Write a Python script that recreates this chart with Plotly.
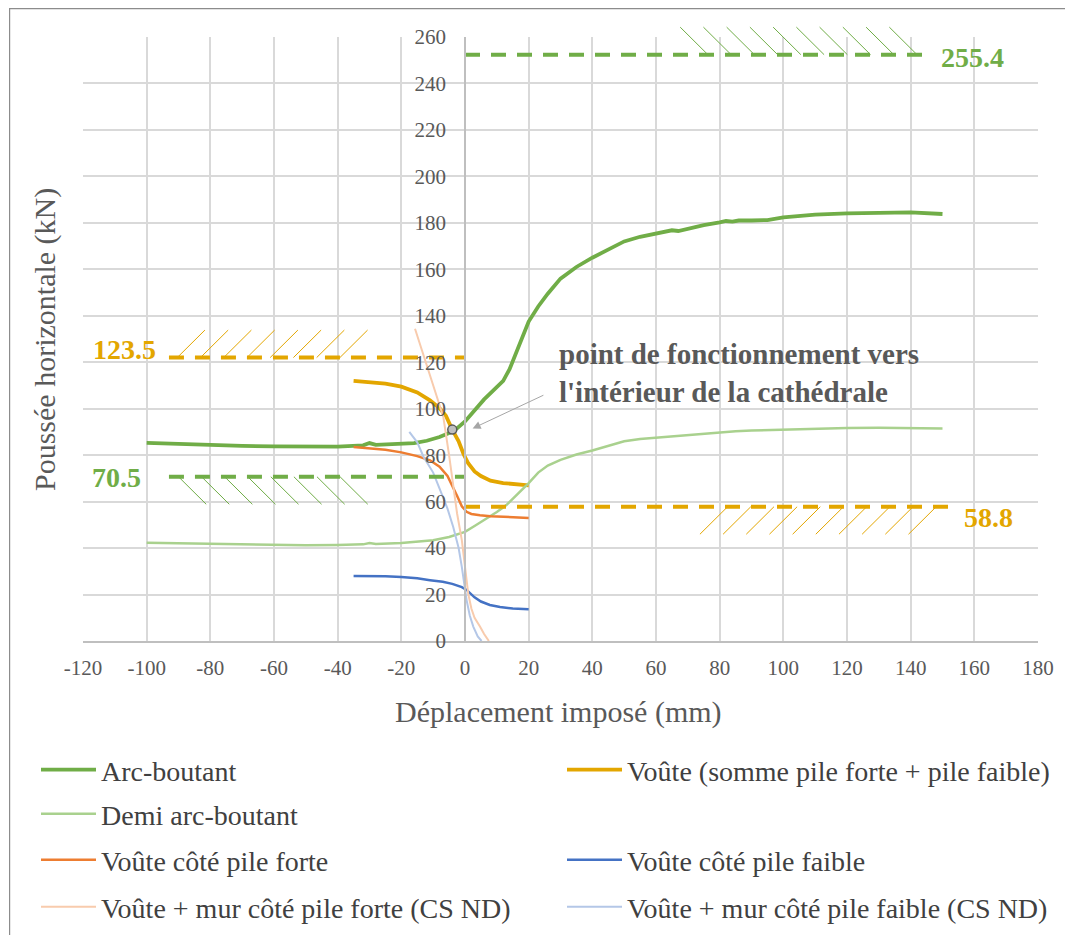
import plotly.graph_objects as go

# ---------------- data ----------------
x_ticks = [-120, -100, -80, -60, -40, -20, 0, 20, 40, 60, 80, 100, 120, 140, 160, 180]
x_tick_labels = ["-120", "-100", "-80", "-60", "-40", "-20", "0", "20", "40", "60",
                 "80", "100", "120", "140", "160", "180"]
y_ticks = [0, 20, 40, 60, 80, 100, 120, 140, 160, 180, 200, 220, 240, 260]
y_tick_labels = [str(v) for v in y_ticks]

arc_x = [-100, -90, -80, -70, -60, -50, -40, -32, -30, -28, -20, -16, -12, -8, -5, -3, 0, 3, 6, 9,
         12, 14, 16, 18, 20, 23, 26, 30, 35, 40, 45, 50, 55, 60, 63, 65, 67, 70, 75, 80, 82, 84,
         86, 90, 95, 100, 110, 120, 130, 140, 150]
arc_y = [85.3, 84.8, 84.4, 84.0, 83.8, 83.6, 83.7, 84.2, 85.2, 84.4, 84.8, 85.2, 86.2, 87.8, 89.5,
         91.0, 94.5, 99.5, 104, 108, 112, 117, 124, 131, 137.5, 144, 149.5, 156, 161, 165, 168.5,
         172, 174, 175.4, 176.2, 176.8, 176.5, 177.5, 179, 180.2, 180.8, 180.5, 181, 181, 181.2,
         182.4, 183.5, 184.1, 184.5, 184.5, 183.8]

somme_x = [-35, -30, -25, -20, -15, -11, -8, -6, -4, -2, -0.5, 1, 3, 5, 8, 12, 16, 20]
somme_y = [112, 111.6, 110.8, 109.5, 107, 103.6, 100.2, 97, 91, 86, 80.6, 76.5, 73, 71, 69, 68,
           67.3, 67]

demi_x = [-100, -80, -60, -50, -40, -32, -30, -28, -20, -15, -10, -5, -2, 0, 3, 6, 10, 13, 16, 20,
          23, 26, 30, 35, 40, 45, 50, 55, 60, 65, 70, 75, 80, 85, 90, 100, 110, 120, 130, 140, 150]
demi_y = [42.3, 41.8, 41.4, 41.2, 41.3, 41.6, 42.2, 41.8, 42.2, 42.7, 43.4, 44.8, 46, 47, 49.5, 52,
          55.5, 58.5, 62.5, 68, 72.5, 75.5, 78, 80.3, 82, 84, 86, 87, 87.6, 88.2, 88.6, 89.2, 90,
          90.3, 90.6, 91, 91.4, 91.7, 91.8, 91.8, 91.5]

forte_x = [-35, -30, -25, -20, -15, -11, -8, -5.5, -4, -2.5, -1, 0.5, 2, 4.7, 8, 12, 16, 20]
forte_y = [83.5, 83.0, 82.3, 81.2, 79.6, 77.8, 75, 71, 67, 62.5, 58, 55.6, 54.7, 54.1, 53.7, 53.4,
           53.2, 53]

faible_x = [-35, -30, -25, -20, -15, -11, -7, -4, -2.5, -1, 0.5, 1.6, 3, 5, 7.8, 11, 15, 20]
faible_y = [28, 28.1, 27.9, 27.5, 27, 26.2, 25.5, 24.6, 24, 23.2, 22, 20.5, 18.8, 17, 15.5, 14.6,
            14, 13.7]

mur_forte_x = [-15.7, -13, -11, -9, -6.8, -5, -3.7, -2.5, -1, 0, 1, 2, 3, 4.7, 6, 7.5]
mur_forte_y = [134.4, 123, 115, 106, 96.4, 80, 66.3, 55, 43.4, 31, 20.5, 14, 10, 6.2, 3, 0]

mur_faible_x = [-17.5, -15, -13, -10, -7.8, -5.5, -3.7, -2, -1, 0, 0.5, 1.5, 2.6, 4, 5.2]
mur_faible_y = [90, 85.5, 79.2, 72.5, 64.9, 57, 49.1, 40, 31.9, 22.5, 17.6, 11, 6.2, 2, 0]

point_x = [-4]
point_y = [91]

# limit lines: label, drawn level, x extent
limit_labels = ["255.4", "123.5", "70.5", "58.8"]
limit_levels = [252.4, 122.0, 70.7, 57.8]
limit_x0 = [0, -93, -93, 0]
limit_x1 = [144, 0, 0, 152]

# ---------------- styling ----------------
FONT = "Liberation Serif, serif"
C_ARC = "#70ad47"
C_DEMI = "#a9d18e"
C_GOLD = "#e3a600"
C_FORTE = "#ed7d31"
C_FAIBLE = "#4472c4"
C_MUR_FORTE = "#f8cbad"
C_MUR_FAIBLE = "#b4c7e7"
GRAY_TXT = "#595959"

limit_colors = [C_ARC, C_GOLD, C_ARC, C_GOLD]
# hatch specs: first x, count, spacing (data units), side (+1 above / -1 below), slant (+1 '/', -1 '\')
hatch_specs = [(67.6, 10, 7.3, +1, -1), (-90.4, 8, 7.3, +1, +1),
               (-90.0, 8, 7.25, -1, -1), (73.8, 10, 7.28, -1, +1)]
label_pos = [(149, 251, "left"), (-96.5, 125.5, "right"), (-101, 70.3, "right"), (156, 53.3, "left")]

YMAX = 260.0
HATCH_DX = 8.7          # data units along x
HATCH_DY = 27.5 / 604   # paper units along y

# page geometry (the figure sits 8px inside the page because of the body margin)
PAGE_OFF = 8
PLOT_L, PLOT_B, PLOT_W, PLOT_H = 83.0, 641.0, 955.0, 604.0   # page pixels


def px_to_paper_x(px):
    return (px - PLOT_L) / PLOT_W


def py_to_paper_y(py):
    return (PLOT_B - py) / PLOT_H


fig = go.Figure()


def add_line(x, y, name, color, width, legend):
    fig.add_trace(go.Scatter(x=x, y=y, mode="lines", name=name, legend=legend,
                             line=dict(color=color, width=width), hoverinfo="skip"))


add_line(arc_x, arc_y, "Arc-boutant", C_ARC, 3.8, "legend")
add_line(somme_x, somme_y, "Voûte (somme pile forte + pile faible)", C_GOLD, 3.8, "legend2")
add_line(demi_x, demi_y, "Demi arc-boutant", C_DEMI, 2.5, "legend3")
add_line(forte_x, forte_y, "Voûte côté pile forte", C_FORTE, 2.5, "legend4")
add_line(faible_x, faible_y, "Voûte côté pile faible", C_FAIBLE, 2.5, "legend5")
add_line(mur_forte_x, mur_forte_y, "Voûte + mur côté pile forte (CS ND)", C_MUR_FORTE, 2, "legend6")
add_line(mur_faible_x, mur_faible_y, "Voûte + mur côté pile faible (CS ND)", C_MUR_FAIBLE, 2, "legend7")

# limit dashed lines
for lab, lev, x0, x1, col in zip(limit_labels, limit_levels, limit_x0, limit_x1, limit_colors):
    fig.add_trace(go.Scatter(x=[x0, x1], y=[lev, lev], mode="lines", showlegend=False,
                             line=dict(color=col, width=4, dash="15px,11px"), hoverinfo="skip"))

# operating point
fig.add_trace(go.Scatter(x=point_x, y=point_y, mode="markers", showlegend=False,
                         marker=dict(size=9, color="#bfbfbf", line=dict(color="#595959", width=1.5)),
                         hoverinfo="skip"))

shapes = []
# hatches
for (hx, n, sp, side, slant), lev, col in zip(hatch_specs, limit_levels, limit_colors):
    base = lev / YMAX
    for i in range(n):
        xa = hx + i * sp
        xb = xa + HATCH_DX
        far = base + side * HATCH_DY
        if (slant > 0) == (side > 0):
            ya, yb = base, far
        else:
            ya, yb = far, base
        shapes.append(dict(type="line", xref="x", yref="paper", x0=xa, x1=xb, y0=ya, y1=yb,
                           line=dict(color=col, width=1), layer="above"))

# outer frame (top and left edges)
shapes.append(dict(type="line", xref="paper", yref="paper", x0=px_to_paper_x(9), x1=px_to_paper_x(1090),
                   y0=py_to_paper_y(8.6), y1=py_to_paper_y(8.6), line=dict(color="#8c8c8c", width=1.2)))
shapes.append(dict(type="line", xref="paper", yref="paper", x0=px_to_paper_x(9.6), x1=px_to_paper_x(9.6),
                   y0=py_to_paper_y(8), y1=py_to_paper_y(960), line=dict(color="#8c8c8c", width=1.2)))

annotations = []
for (lx, ly, anc), lab, col in zip(label_pos, limit_labels, limit_colors):
    annotations.append(dict(x=lx, y=ly, xref="x", yref="y", text="<b>%s</b>" % lab, showarrow=False,
                            xanchor=anc, yanchor="middle",
                            font=dict(family=FONT, size=28, color=col)))

annotations.append(dict(x=28.8, y=115.3, xref="x", yref="y", xanchor="left", yanchor="middle", align="left",
                        text="<b>point de fonctionnement vers<br>l'intérieur de la cathédrale</b>",
                        showarrow=False, font=dict(family=FONT, size=29, color=GRAY_TXT)))
annotations.append(dict(x=2.4, y=91.5, ax=25.1, ay=106.1, xref="x", yref="y", axref="x", ayref="y",
                        text="", showarrow=True, arrowhead=2, arrowsize=1.6, arrowwidth=1,
                        arrowcolor="#a6a6a6"))
annotations.append(dict(x=px_to_paper_x(45), y=py_to_paper_y(340), xref="paper", yref="paper",
                        xanchor="center", yanchor="middle",
                        text="Poussée horizontale (kN)", textangle=-90, showarrow=False,
                        font=dict(family=FONT, size=30, color=GRAY_TXT)))
annotations.append(dict(x=px_to_paper_x(558), y=py_to_paper_y(712), xref="paper", yref="paper",
                        xanchor="center", yanchor="middle",
                        text="Déplacement imposé (mm)", showarrow=False,
                        font=dict(family=FONT, size=30, color=GRAY_TXT)))

legend_common = dict(orientation="v", font=dict(family=FONT, size=28, color="#404040"),
                     bgcolor="rgba(0,0,0,0)", itemwidth=55,
                     xanchor="left", yanchor="middle",
                     itemclick=False, itemdoubleclick=False)
col_x = [36, 562]
row_y = [770, 814, 860, 907]
legend_slots = [(0, 0), (1, 0), (0, 1), (0, 2), (1, 2), (0, 3), (1, 3)]
legend_layout = {}
for i, (c, r) in enumerate(legend_slots):
    key = "legend" if i == 0 else "legend%d" % (i + 1)
    legend_layout[key] = dict(legend_common, x=px_to_paper_x(col_x[c]), y=py_to_paper_y(row_y[r]))

fig.update_layout(
    width=1073 - PAGE_OFF, height=935 - PAGE_OFF,
    margin=dict(l=PLOT_L - PAGE_OFF, r=35, t=37 - PAGE_OFF, b=294, autoexpand=False),
    paper_bgcolor="white", plot_bgcolor="white",
    font=dict(family=FONT, color=GRAY_TXT),
    xaxis=dict(range=[-120, 180], tickmode="array", tickvals=x_ticks, ticktext=x_tick_labels,
               showgrid=True, gridcolor="#d9d9d9", gridwidth=1.5, zeroline=False,
               showline=True, linecolor="#bfbfbf", linewidth=1.5, ticks="",
               ticklabelstandoff=7, tickfont=dict(family=FONT, size=21, color=GRAY_TXT)),
    yaxis=dict(range=[0, 260], tickmode="array", tickvals=y_ticks, ticktext=y_tick_labels,
               anchor="free", position=0.4,
               showgrid=True, gridcolor="#d9d9d9", gridwidth=1.5, zeroline=False,
               showline=True, linecolor="#bfbfbf", linewidth=1.5, ticks="",
               ticklabelstandoff=14, tickfont=dict(family=FONT, size=21, color=GRAY_TXT)),
    shapes=shapes, annotations=annotations,
    **legend_layout,
)

fig.write_html("out.html")
